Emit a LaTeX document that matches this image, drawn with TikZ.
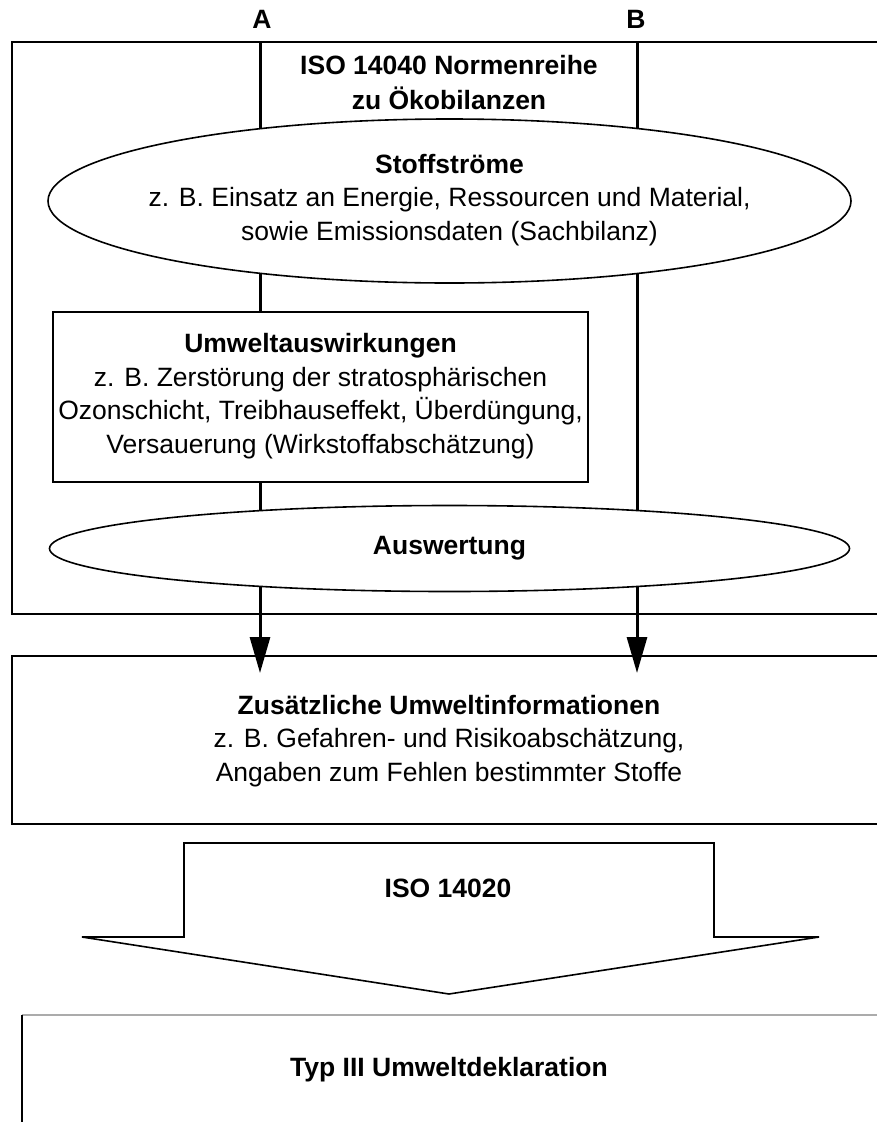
\documentclass[tikz,border=0pt]{standalone}
\usepackage{fontspec}
\setmainfont{Liberation Sans}
\usetikzlibrary{shapes.geometric,arrows.meta}
\tikzset{
  txt/.style={align=center,inner sep=0pt,font=\fontsize{26.5}{33.5}\selectfont},
  boxline/.style={draw=black,line width=1.6pt},
  whitebox/.style={boxline,fill=white,rectangle,inner sep=0pt},
  oval/.style={boxline,fill=white,ellipse,inner sep=0pt},
  flow/.style={line width=3pt,-{Triangle[width=20pt,length=36pt]}},
  plainline/.style={line width=3pt},
}
\begin{document}
\begin{tikzpicture}[x=1pt,y=-1pt]
\useasboundingbox (0,0) rectangle (877,1122);
% outer ISO 14040 frame
\node[boxline,rectangle,inner sep=0pt,minimum width=880pt,minimum height=572pt,anchor=north west] (outer) at (11,41) {};
\node[txt,font=\fontsize{26.5}{35}\selectfont\bfseries] (isotitle) at (449,83) {ISO 14040 Normenreihe\\zu Ökobilanzen};
% labels A and B
\node[txt,font=\fontsize{26.5}{33.5}\selectfont\bfseries] (labA) at (262,19) {A};
\node[txt,font=\fontsize{26.5}{33.5}\selectfont\bfseries] (labB) at (636,19) {B};
\coordinate (Atop) at (260,41);
\coordinate (Btop) at (637,41);
\coordinate (Atip) at (260,673);
\coordinate (Btip) at (637,673);
\draw[flow] (Atop) -- (Atip);
\draw[flow] (Btop) -- (Btip);
% Stoffstroeme
\node[oval,minimum width=803pt,minimum height=164pt] (stoff) at (449.5,201) {};
\node[txt] (stofftxt) at (449.5,200) {\textbf{Stoffströme}\\z. B. Einsatz an Energie, Ressourcen und Material,\\sowie Emissionsdaten (Sachbilanz)};
% Umweltauswirkungen
\node[whitebox,minimum width=535pt,minimum height=170pt] (umwelt) at (320.5,397) {};
\node[txt] (umwelttxt) at (320.5,396) {\textbf{Umweltauswirkungen}\\z. B. Zerstörung der stratosphärischen\\Ozonschicht, Treibhauseffekt, Überdüngung,\\Versauerung (Wirkstoffabschätzung)};
% Auswertung
\node[oval,minimum width=800pt,minimum height=86pt] (ausw) at (449.5,548.5) {};
\node[txt,font=\fontsize{26.5}{33.5}\selectfont\bfseries] (auswtxt) at (449.5,548) {Auswertung};
% Zusaetzliche Umweltinformationen
\node[boxline,rectangle,inner sep=0pt,minimum width=880pt,minimum height=168pt,anchor=north west] (zusatz) at (11,655) {};
\node[txt] (zusatztxt) at (449,741) {\textbf{Zusätzliche Umweltinformationen}\\z. B. Gefahren- und Risikoabschätzung,\\Angaben zum Fehlen bestimmter Stoffe};
% big arrow ISO 14020
\draw[boxline,fill=white] (184,843) -- (714,843) -- (714,937) -- (819,937) -- (449,994) -- (82,937) -- (184,937) -- cycle;
\node[txt,font=\fontsize{26.5}{33.5}\selectfont\bfseries] (iso20) at (448,888) {ISO 14020};
% Typ III box (partly visible)
\coordinate (typNW) at (22,1015);
\coordinate (typNE) at (890,1015);
\coordinate (typSW) at (22,1130);
\draw[line width=2pt,color=black!33] (typNW) -- (typNE);
\draw[line width=1.6pt] (typNW) -- (typSW);
\node[txt,font=\fontsize{26.5}{33.5}\selectfont\bfseries] (typ) at (449,1070) {Typ III Umweltdeklaration};
\end{tikzpicture}
\end{document}
